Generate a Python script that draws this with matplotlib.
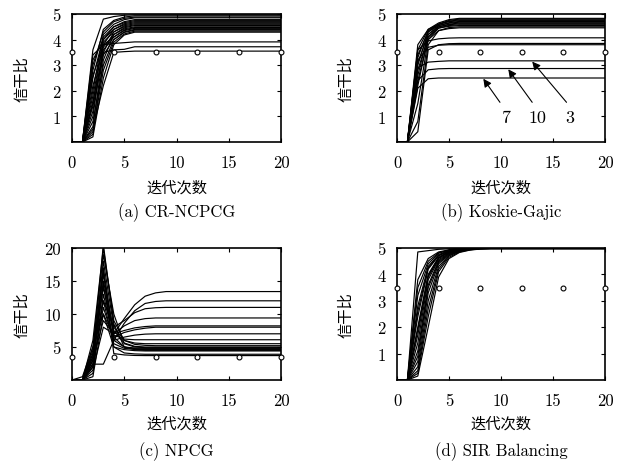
import matplotlib
matplotlib.use("Agg")
import matplotlib.pyplot as plt
import numpy as np

plt.rcParams['font.family'] = ['cmr10', 'Noto Sans CJK SC', 'DejaVu Sans']
plt.rcParams['axes.formatter.use_mathtext'] = True

# iterations and target SIR markers
iters = np.arange(0, 21)
target_x = [0, 4, 8, 12, 16, 20]
target_y = 3.5

# (a) CR-NCPCG: early values (k = 0..5), then final plateau
a_early = [
    [0, 0, 3.6, 4.8, 4.9, 4.95],
    [0, 0, 2.8, 4.4, 4.75, 4.88],
    [0, 0, 3.0, 4.3, 4.7, 4.83],
    [0, 0, 2.0, 4.2, 4.6, 4.78],
    [0, 0, 1.5, 4.0, 4.5, 4.7],
    [0, 0, 2.5, 4.1, 4.5, 4.66],
    [0, 0, 1.0, 3.8, 4.4, 4.62],
    [0, 0, 3.2, 4.0, 4.4, 4.58],
    [0, 0, 0.6, 3.5, 4.3, 4.54],
    [0, 0, 1.8, 3.9, 4.3, 4.5],
    [0, 0, 2.2, 3.7, 4.2, 4.46],
    [0, 0, 0.3, 3.2, 4.2, 4.42],
    [0, 0, 1.2, 3.6, 4.1, 4.38],
    [0, 0, 2.6, 3.8, 4.1, 4.35],
    [0, 0, 0.8, 3.0, 4.0, 4.3],
    [0, 0, 1.4, 3.4, 4.0, 4.28],
    [0, 0, 0.4, 2.8, 3.9, 4.22],
    [0, 0, 0.2, 2.5, 3.8, 4.18],
    [0, 0, 3.4, 3.8, 3.85, 3.88],
    [0, 0, 1.6, 3.5, 3.6, 3.62],
    [0, 0, 0.5, 2.2, 3.5, 3.53],
]
a_final = [4.97, 4.93, 4.88, 4.85, 4.78, 4.74, 4.70, 4.66, 4.62, 4.58, 4.55,
           4.50, 4.47, 4.44, 4.40, 4.37, 4.33, 4.29, 3.91, 3.72, 3.55]

# (b) Koskie-Gajic
b_early = [
    [0, 0, 3.6, 4.4, 4.65, 4.78],
    [0, 0, 3.3, 4.35, 4.6, 4.75],
    [0, 0, 3.0, 4.3, 4.6, 4.72],
    [0, 0, 3.8, 4.4, 4.6, 4.7],
    [0, 0, 2.6, 4.2, 4.55, 4.66],
    [0, 0, 3.4, 4.3, 4.55, 4.64],
    [0, 0, 2.2, 4.1, 4.5, 4.6],
    [0, 0, 3.1, 4.2, 4.5, 4.58],
    [0, 0, 1.5, 4.0, 4.45, 4.55],
    [0, 0, 2.8, 4.1, 4.45, 4.52],
    [0, 0, 0.8, 3.8, 4.35, 4.47],
    [0, 0, 2.4, 4.0, 4.35, 4.43],
    [0, 0, 3.6, 3.95, 4.03, 4.06],
    [0, 0, 0.4, 3.6, 3.8, 3.84],
    [0, 0, 3.2, 3.7, 3.78, 3.8],
    [0, 0, 2.9, 3.12, 3.15, 3.17],
    [0, 0, 2.4, 2.82, 2.86, 2.87],
    [0, 0, 2.1, 2.47, 2.5, 2.5],
]
b_final = [4.83, 4.80, 4.77, 4.74, 4.71, 4.68, 4.65, 4.62, 4.58, 4.55, 4.50,
           4.46, 4.07, 3.85, 3.80, 3.17, 2.87, 2.50]

# (c) NPCG: early values (k = 0..8)
c_early = [
    [0, 0, 3.0, 9.0, 7.0, 9.3, 11.4, 12.7, 13.2],
    [0, 0, 2.4, 2.4, 6.0, 8.6, 10.5, 11.6, 11.9],
    [0, 0, 4.0, 12.0, 8.0, 9.0, 10.2, 10.8, 10.95],
    [0, 0, 1.5, 8.0, 7.0, 8.2, 9.0, 9.3, 9.4],
    [0, 0, 3.5, 14.0, 7.0, 7.5, 7.9, 8.1, 8.2],
    [0, 0.5, 5.0, 10.0, 6.5, 7.2, 7.6, 7.85, 8.0],
    [0, 0, 2.0, 11.0, 6.0, 6.5, 6.8, 6.95, 7.0],
    [0, 0, 4.5, 16.0, 6.8, 6.2, 6.1, 6.1, 6.1],
    [0, 0, 3.0, 18.0, 8.0, 6.0, 5.6, 5.5, 5.5],
    [0, 0, 6.0, 20.0, 9.0, 6.0, 5.4, 5.25, 5.2],
    [0, 0, 2.5, 15.0, 7.5, 5.6, 5.1, 5.0, 5.0],
    [0, 0, 5.0, 19.0, 10.0, 5.5, 5.0, 4.9, 4.9],
    [0, 0, 1.0, 13.0, 6.0, 5.0, 4.85, 4.8, 4.8],
    [0, 0, 3.5, 17.0, 6.5, 5.0, 4.75, 4.7, 4.7],
    [0, 0, 2.0, 12.0, 5.5, 4.8, 4.65, 4.6, 4.6],
    [0, 0, 4.0, 20.5, 8.5, 5.0, 4.6, 4.5, 4.5],
    [0, 0, 0.5, 10.0, 5.0, 4.6, 4.45, 4.4, 4.4],
    [0, 0, 3.0, 14.5, 5.0, 4.1, 3.95, 3.9, 3.9],
    [0, 0, 2.0, 16.5, 4.0, 3.8, 3.72, 3.7, 3.7],
]
c_final = [13.4, 12.0, 11.0, 9.4, 8.2, 8.0, 7.0, 6.1, 5.5, 5.2, 5.0, 4.9,
           4.8, 4.7, 4.6, 4.5, 4.4, 3.9, 3.7]

# (d) SIR Balancing: early values (k = 0..8)
d_early = [
    [0, 0, 4.85, 4.9, 4.95, 4.97, 4.98, 4.99, 5.0],
    [0, 0, 3.8, 4.6, 4.85, 4.93, 4.97, 4.99, 5.0],
    [0, 0, 3.5, 4.5, 4.82, 4.92, 4.96, 4.98, 5.0],
    [0, 0, 3.2, 4.4, 4.8, 4.92, 4.96, 4.98, 5.0],
    [0, 0, 2.8, 4.3, 4.75, 4.9, 4.95, 4.98, 5.0],
    [0, 0, 2.6, 4.25, 4.72, 4.89, 4.95, 4.98, 5.0],
    [0, 0, 2.4, 4.2, 4.7, 4.88, 4.95, 4.98, 5.0],
    [0, 0, 2.0, 4.0, 4.65, 4.86, 4.94, 4.97, 4.99],
    [0, 0, 1.9, 3.95, 4.62, 4.85, 4.94, 4.97, 4.99],
    [0, 0, 1.7, 3.9, 4.6, 4.85, 4.93, 4.97, 4.99],
    [0, 0, 1.4, 3.8, 4.55, 4.82, 4.92, 4.96, 4.99],
    [0, 0, 1.1, 3.6, 4.5, 4.8, 4.91, 4.96, 4.98],
    [0, 0, 0.9, 3.5, 4.45, 4.78, 4.9, 4.95, 4.98],
    [0, 0, 0.7, 3.3, 4.4, 4.75, 4.89, 4.95, 4.98],
    [0, 0, 0.5, 3.0, 4.3, 4.72, 4.88, 4.94, 4.97],
    [0, 0, 0.35, 2.7, 4.2, 4.7, 4.87, 4.94, 4.97],
    [0, 0, 0.25, 2.4, 4.1, 4.65, 4.85, 4.93, 4.97],
    [0, 0, 0.15, 2.0, 3.9, 4.6, 4.83, 4.92, 4.96],
]
d_final = [5.0] * 10 + [4.99, 4.99, 4.98, 4.98, 4.98, 4.98, 4.98, 4.97]

# arrows in (b): label, text pos, arrow tail, arrow tip
b_labels = ['7', '10', '3']
b_text_xy = [(10.5, 0.95), (13.5, 0.95), (16.6, 0.95)]
b_tail_xy = [(9.9, 1.55), (13.0, 1.55), (16.3, 1.55)]
b_tip_xy = [(8.3, 2.47), (10.7, 2.84), (13.0, 3.14)]

captions = ['(a) CR-NCPCG', '(b) Koskie-Gajic', '(c) NPCG', '(d) SIR Balancing']

W, H = 627, 464
fig = plt.figure(figsize=(W / 100, H / 100), dpi=100)


def px_axes(left, top, right, bottom):
    return fig.add_axes([left / W, 1 - bottom / H, (right - left) / W, (bottom - top) / H])


def draw_panel(ax, early, final, ymax, yticks):
    for row, fv in zip(early, final):
        vals = list(row) + [fv] * (len(iters) - len(row))
        ax.plot(iters, vals, color='black', lw=0.85)
    ax.plot(target_x, [target_y] * len(target_x), linestyle='none', marker='o',
            ms=3.5, mfc='white', mec='black', mew=0.8, clip_on=False, zorder=5)
    ax.set_xlim(0, 20)
    ax.set_ylim(0, ymax)
    ax.set_xticks([0, 5, 10, 15, 20])
    ax.set_xticklabels(['0', '5', '10', '15', '20'])
    ax.set_yticks(yticks)
    ax.set_yticklabels([str(t) for t in yticks])
    ax.tick_params(direction='in', top=True, right=True, length=3, width=0.8,
                   labelsize=12)
    ax.tick_params(axis='x', pad=9)
    ax.tick_params(axis='y', pad=8)
    for s in ax.spines.values():
        s.set_linewidth(1.2)


ax_a = px_axes(72, 15, 281, 143)
ax_b = px_axes(397, 15, 605, 143)
ax_c = px_axes(72, 249, 281, 381)
ax_d = px_axes(397, 249, 605, 381)

draw_panel(ax_a, a_early, a_final, 5, [1, 2, 3, 4, 5])
draw_panel(ax_b, b_early, b_final, 5, [1, 2, 3, 4, 5])
draw_panel(ax_c, c_early, c_final, 20, [5, 10, 15, 20])
draw_panel(ax_d, d_early, d_final, 5, [1, 2, 3, 4, 5])

for lab, txy, tail, tip in zip(b_labels, b_text_xy, b_tail_xy, b_tip_xy):
    ax_b.annotate('', xy=tip, xytext=tail,
                  arrowprops=dict(arrowstyle='-|>', color='black', lw=0.8,
                                  mutation_scale=12, shrinkA=0, shrinkB=0))
    ax_b.text(txy[0], txy[1], lab, ha='center', va='center', fontsize=13)

for ax, cap in zip([ax_a, ax_b, ax_c, ax_d], captions):
    pos = ax.get_position()
    cx = pos.x0 + pos.width / 2
    cy = pos.y0 + pos.height / 2
    top_row = pos.y0 > 0.5
    fig.text(cx, 1 - (188 if top_row else 424) / H, '迭代次数', ha='center',
             va='center', fontsize=11)
    fig.text(cx, 1 - (213 if top_row else 452) / H, cap, ha='center',
             va='center', fontsize=12)
    ylx = 22 if pos.x0 < 0.5 else 346
    fig.text(ylx / W, cy, '信干比', rotation=90, ha='center', va='center',
             fontsize=11)

fig.savefig('out.png', dpi=100, facecolor='white')
